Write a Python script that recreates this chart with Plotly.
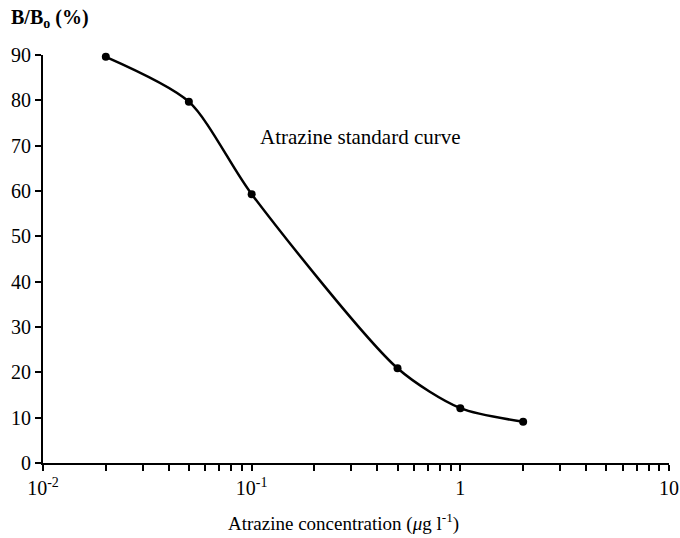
import plotly.graph_objects as go

conc = [0.02, 0.05, 0.1, 0.5, 1.0, 2.0]
b_b0 = [89.6, 79.7, 59.3, 20.9, 12.1, 9.1]

x_tickvals = [0.01, 0.02, 0.03, 0.04, 0.05, 0.06, 0.07, 0.08, 0.09,
              0.1, 0.2, 0.3, 0.4, 0.5, 0.6, 0.7, 0.8, 0.9,
              1, 2, 3, 4, 5, 6, 7, 8, 9, 10]
x_ticktext = ["10<sup>-2</sup>"] + [""] * 8 + ["10<sup>-1</sup>"] + [""] * 8 + ["1"] + [""] * 8 + ["10"]
y_tickvals = [0, 10, 20, 30, 40, 50, 60, 70, 80, 90]

font_family = "Liberation Serif, Times New Roman, serif"

fig = go.Figure()
fig.add_trace(go.Scatter(
    x=conc, y=b_b0, mode="lines+markers",
    line=dict(color="black", width=2.5, shape="spline", smoothing=0.75),
    marker=dict(color="black", size=8),
    cliponaxis=False, showlegend=False,
))

fig.update_layout(
    width=680, height=538,
    margin=dict(l=43, r=11, t=55, b=75),
    paper_bgcolor="white", plot_bgcolor="white",
    font=dict(family=font_family, size=20, color="black"),
    xaxis=dict(
        type="log", range=[-2, 1], automargin=False,
        tickvals=x_tickvals, ticktext=x_ticktext,
        ticks="outside", ticklen=6, tickwidth=1.5, tickcolor="black",
        showline=True, linecolor="black", linewidth=2,
        showgrid=False, zeroline=False,
        tickfont=dict(family=font_family, size=20),
    ),
    yaxis=dict(
        range=[0, 90], automargin=False,
        tickvals=y_tickvals,
        ticks="outside", ticklen=6, tickwidth=1.5, tickcolor="black",
        showline=True, linecolor="black", linewidth=2,
        showgrid=False, zeroline=False,
        tickfont=dict(family=font_family, size=20),
    ),
    annotations=[
        dict(text="<b>B/B<sub>o</sub> (%)</b>", xref="paper", yref="paper",
             x=-0.055, y=1.09, xanchor="left", yanchor="middle",
             showarrow=False, font=dict(family=font_family, size=20)),
        dict(text="Atrazine concentration (<i>μ</i>g l<sup>-1</sup>)", xref="paper", yref="paper",
             x=0.48, y=-0.145, xanchor="center", yanchor="middle",
             showarrow=False, font=dict(family=font_family, size=19)),
        dict(text="Atrazine standard curve", xref="x", yref="y",
             x=-0.97, y=72, xanchor="left", yanchor="middle",
             showarrow=False, font=dict(family=font_family, size=21)),
    ],
)

fig.write_html("out.html", config={"displayModeBar": False},
               post_script="document.body.style.margin='0';")
